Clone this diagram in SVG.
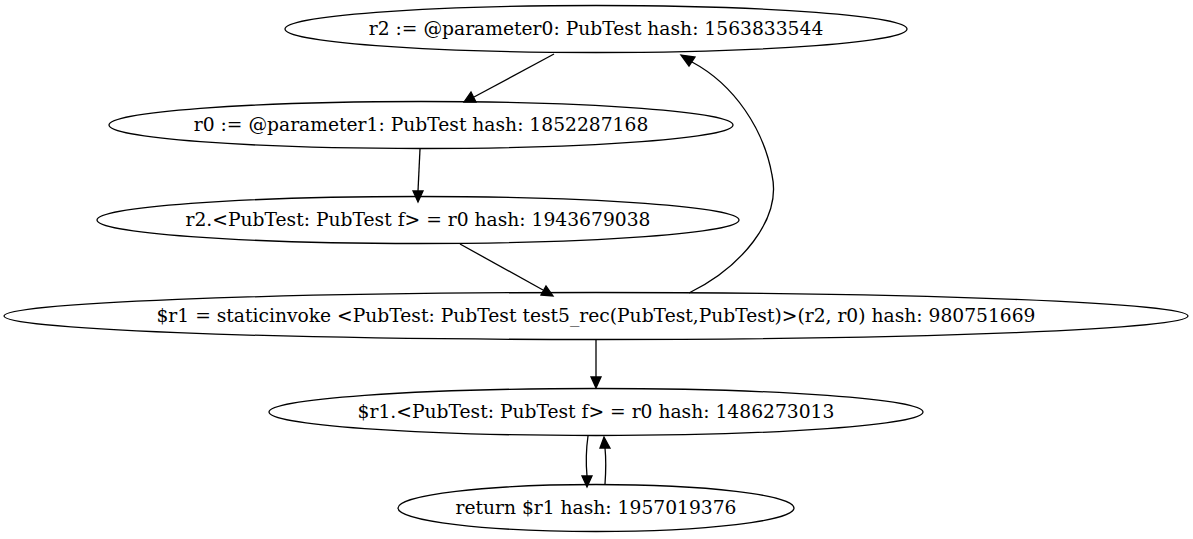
<svg xmlns="http://www.w3.org/2000/svg" width="1193" height="539" viewBox="0 0 1193 539">
<style>
.n ellipse{fill:none;stroke:#000;stroke-width:1.3}
.n text{font-family:"DejaVu Serif","Liberation Serif",serif;font-size:18.7px;text-anchor:middle;fill:#000}
.e path{fill:none;stroke:#000;stroke-width:1.3}
.e polygon{fill:#000;stroke:#000;stroke-width:1.3}
</style>
<rect width="1193" height="539" fill="#fff"/>
<g class="e" id="edges">
<path d="M554,54 L474,97"/>
<polygon points="476,102 464,102 471,92"/>
<path d="M420,149 L418,191"/>
<polygon points="423,191 418,202 413,191"/>
<path d="M460,244 L543,290"/>
<polygon points="541,295 553,296 546,286"/>
<path d="M689,293 C740,268 782,220 772,175 C764,130 735,85 692,62"/>
<polygon points="689,66 681,55 695,57"/>
<path d="M596,340 L596,377"/>
<polygon points="601,377 596,388 591,377"/>
<path d="M588,436 C586,450 586,465 587,476"/>
<polygon points="582,476 587,487 592,476"/>
<path d="M605,484 C606,470 606,458 605,448"/>
<polygon points="600,448 604,437 610,448"/>
</g>
<g class="n" id="n1"><ellipse cx="596" cy="29" rx="311" ry="23.5"/><text x="596" y="35">r2 := @parameter0: PubTest hash: 1563833544</text></g>
<g class="n" id="n2"><ellipse cx="421" cy="125" rx="312" ry="23.5"/><text x="421" y="131">r0 := @parameter1: PubTest hash: 1852287168</text></g>
<g class="n" id="n3"><ellipse cx="418" cy="220" rx="321" ry="23.5"/><text x="418" y="226">r2.&lt;PubTest: PubTest f&gt; = r0 hash: 1943679038</text></g>
<g class="n" id="n4"><ellipse cx="596" cy="316" rx="592" ry="23.5"/><text x="596" y="322">$r1 = staticinvoke &lt;PubTest: PubTest test5_rec(PubTest,PubTest)&gt;(r2, r0) hash: 980751669</text></g>
<g class="n" id="n5"><ellipse cx="596" cy="412" rx="327" ry="23.5"/><text x="596" y="418">$r1.&lt;PubTest: PubTest f&gt; = r0 hash: 1486273013</text></g>
<g class="n" id="n6"><ellipse cx="596" cy="508" rx="198" ry="23.5"/><text x="596" y="514">return $r1 hash: 1957019376</text></g>
</svg>
